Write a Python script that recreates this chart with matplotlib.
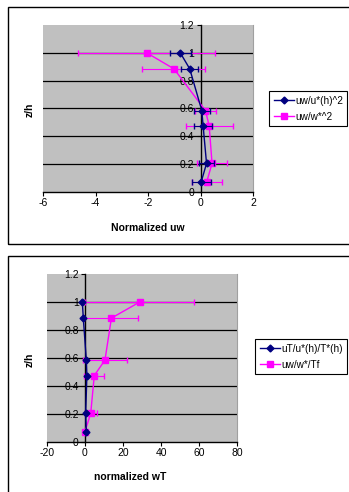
import numpy as np
import matplotlib.pyplot as plt
from matplotlib.patches import Rectangle
from matplotlib.lines import Line2D

plt.rcParams['font.family'] = ['Liberation Sans', 'DejaVu Sans']
plt.rcParams['axes.unicode_minus'] = False

# heights (z/h)
z = [1.0, 0.885, 0.585, 0.475, 0.205, 0.075]

# top panel: normalized uw
uw_ustar = [-0.77, -0.41, 0.05, 0.10, 0.23, 0.03]
uw_ustar_err = [0.40, 0.33, 0.30, 0.35, 0.30, 0.37]
uw_wstar = [-2.05, -1.01, 0.19, 0.33, 0.44, 0.24]
uw_wstar_err = [2.60, 1.20, 0.40, 0.90, 0.58, 0.58]

# bottom panel: normalized wT
uT_ustar = [-1.4, -0.9, 0.7, 1.0, 0.35, 0.7]
uT_ustar_err = [0.2, 0.2, 0.2, 0.2, 0.2, 0.2]
uw_Tf = [28.8, 13.9, 10.5, 4.9, 3.0, 0.0]
uw_Tf_err = [28.8, 14.2, 11.4, 5.2, 3.2, 0.8]

W, H = 349, 492
NAVY = '#000080'
MAG = '#FF00FF'


def px_axes(fig, x0, y0, x1, y1):
    return fig.add_axes([x0 / W, 1 - y1 / H, (x1 - x0) / W, (y1 - y0) / H])


def draw_panel(ax, s1, e1, s2, e2, xlim, xticks):
    ax.set_facecolor('#C0C0C0')
    for y in [0.2, 0.4, 0.6, 0.8, 1.0]:
        ax.axhline(y, color='black', lw=0.9, zorder=1)
    ax.errorbar(s1, z, xerr=e1, color=NAVY, ecolor=NAVY, marker='D', ms=3.5,
                lw=1, elinewidth=0.8, capsize=2.5, zorder=4)
    ax.errorbar(s2, z, xerr=e2, color=MAG, ecolor=MAG, marker='s', ms=4.5,
                lw=1, elinewidth=0.8, capsize=2.5, zorder=3)
    ax.set_xlim(xlim)
    ax.set_ylim(0, 1.2)
    ax.set_xticks(xticks)
    ax.set_yticks([0, 0.2, 0.4, 0.6, 0.8, 1.0, 1.2])
    ax.set_yticklabels(['0', '0.2', '0.4', '0.6', '0.8', '1', '1.2'])
    ax.spines['left'].set_position(('data', 0))
    ax.spines['top'].set_visible(False)
    ax.spines['right'].set_color('#A0A0A0')
    ax.spines['left'].set_linewidth(1)
    ax.spines['bottom'].set_linewidth(1)
    ax.tick_params(direction='out', length=3, width=0.8, labelsize=7.5, pad=1.5)
    ax.spines['left'].set_zorder(2)


def add_legend(ax, labels, x, y):
    handles = [Line2D([], [], color=NAVY, marker='D', ms=3.5, lw=1),
               Line2D([], [], color=MAG, marker='s', ms=4.5, lw=1)]
    leg = ax.legend(handles, labels, loc='upper left', bbox_to_anchor=(x / W, 1 - y / H),
                    bbox_transform=fig.transFigure, fontsize=7.2, frameon=True,
                    fancybox=False, edgecolor='black', framealpha=1,
                    handlelength=2.0, handletextpad=0.15, borderpad=0.45,
                    labelspacing=0.6, borderaxespad=0)
    leg.get_frame().set_linewidth(0.8)


fig = plt.figure(figsize=(W / 100, H / 100), dpi=100)

# outer frames
fig.patches.append(Rectangle((8 / W, 1 - 244 / H), 400 / W, 237 / H, transform=fig.transFigure,
                             fill=False, edgecolor='black', lw=1))
fig.patches.append(Rectangle((8 / W, 1 - 500 / H), 400 / W, 244 / H, transform=fig.transFigure,
                             fill=False, edgecolor='black', lw=1))

ax1 = px_axes(fig, 43, 25, 253, 192)
draw_panel(ax1, uw_ustar, uw_ustar_err, uw_wstar, uw_wstar_err,
           (-6, 2), [-6, -4, -2, 0, 2])
fig.text(30 / W, 1 - 110 / H, 'z/h', rotation=90, fontsize=7.5, fontweight='bold',
         ha='center', va='center')
fig.text(148 / W, 1 - 228 / H, 'Normalized uw', fontsize=7.5, fontweight='bold',
         ha='center', va='center')
add_legend(ax1, ['uw/u*(h)^2', 'uw/w*^2'], 269, 91)

ax2 = px_axes(fig, 47, 274, 237, 442)
draw_panel(ax2, uT_ustar, uT_ustar_err, uw_Tf, uw_Tf_err,
           (-20, 80), [-20, 0, 20, 40, 60, 80])
fig.text(30 / W, 1 - 360 / H, 'z/h', rotation=90, fontsize=7.5, fontweight='bold',
         ha='center', va='center')
fig.text(130 / W, 1 - 477 / H, 'normalized wT', fontsize=7.5, fontweight='bold',
         ha='center', va='center')
add_legend(ax2, ['uT/u*(h)/T*(h)', 'uw/w*/Tf'], 255, 339)

fig.savefig('out.png', dpi=100)
